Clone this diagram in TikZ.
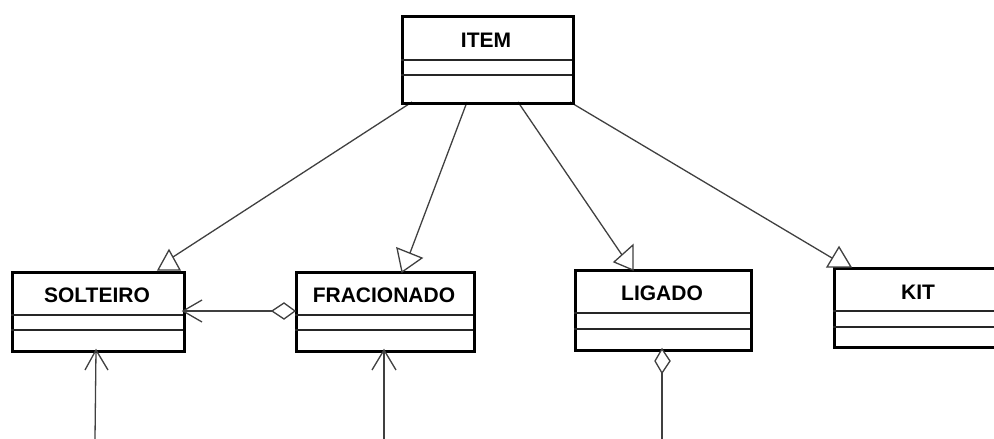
\documentclass[tikz,border=0pt]{standalone}
\usepackage{fontspec}
\setmainfont{Liberation Sans}
\begin{document}
\begin{tikzpicture}[x=1pt,y=-1pt,
  classbox/.style={draw=black, line width=3pt, anchor=north west, inner sep=0pt},
  compart/.style={draw=black!85, line width=1.4pt},
  classname/.style={font=\fontsize{21}{23}\selectfont\bfseries, inner sep=0pt},
  conn/.style={draw=black!75, line width=1.3pt},
  tri/.style={draw=black!75, line width=1.3pt, fill=white, line join=miter},
]
\useasboundingbox (0,0) rectangle (994,439);
\clip (0,0) rectangle (994,439);

% connector end points
\coordinate (i1) at (412,102);
\coordinate (i2) at (467,102);
\coordinate (i3) at (518,102);
\coordinate (i4) at (570,102);
\coordinate (g1) at (173,257);
\coordinate (g2) at (410,253);
\coordinate (g3) at (622,255);
\coordinate (g4) at (832,258);
\coordinate (s-e) at (183,311);
\coordinate (f-w) at (272,311);
\coordinate (l-s) at (662,373);
\coordinate (l-end) at (662,439);
\coordinate (s-s) at (96,350);
\coordinate (s-end) at (95,439);
\coordinate (f-s) at (384,350);
\coordinate (f-end) at (384,439);

% generalizations from ITEM
\draw[conn] (i1) -- (g1);
\draw[conn] (i2) -- (g2);
\draw[conn] (i3) -- (g3);
\draw[conn] (i4) -- (g4);

% class boxes
\node[classbox, minimum width=171pt, minimum height=87pt] (item) at (401,15) {};
\node[classbox, minimum width=172pt, minimum height=79pt] (solteiro) at (11,271) {};
\node[classbox, minimum width=178pt, minimum height=79pt] (fracionado) at (295,271) {};
\node[classbox, minimum width=176pt, minimum height=80pt] (ligado) at (574,269) {};
\node[classbox, minimum width=172pt, minimum height=79pt] (kit) at (833,267) {};

% compartment separators
\draw[compart] (401,60) -- (572,60) (401,75) -- (572,75);
\draw[compart] (11,315) -- (183,315) (11,330) -- (183,330);
\draw[compart] (295,315) -- (473,315) (295,330) -- (473,330);
\draw[compart] (574,313) -- (750,313) (574,329) -- (750,329);
\draw[compart] (833,311) -- (1005,311) (833,327) -- (1005,327);

% class names
\node[classname] (itemname) at (486,40) {ITEM};
\node[classname] (solteironame) at (97,295) {SOLTEIRO};
\node[classname] (fracionadoname) at (384,295) {FRACIONADO};
\node[classname] (ligadoname) at (662,293) {LIGADO};
\node[classname] (kitname) at (918,292) {KIT};

% generalization heads
\draw[tri] (158,270) -- (169,250) -- (180,270) -- cycle;
\draw[tri] (397,248) -- (422,258) -- (402,272) -- cycle;
\draw[tri] (633,245) -- (614,262) -- (633,270) -- cycle;
\draw[tri] (839,247) -- (827,267) -- (851,267) -- cycle;

% aggregation FRACIONADO -> SOLTEIRO
\draw[conn] (f-w) -- (s-e);
\draw[conn] (202,300) -- (s-e) -- (202,322);
\draw[tri] (f-w) -- (284,303) -- (295,311) -- (284,319) -- cycle;

% aggregation at LIGADO
\draw[conn] (l-s) -- (l-end);
\draw[tri] (662,349) -- (655,361) -- (l-s) -- (670,361) -- cycle;

% incoming associations from below
\draw[conn] (s-end) -- (s-s);
\draw[conn] (85,370) -- (s-s) -- (108,370);
\draw[conn] (f-end) -- (f-s);
\draw[conn] (372,370) -- (f-s) -- (396,370);
\end{tikzpicture}
\end{document}
